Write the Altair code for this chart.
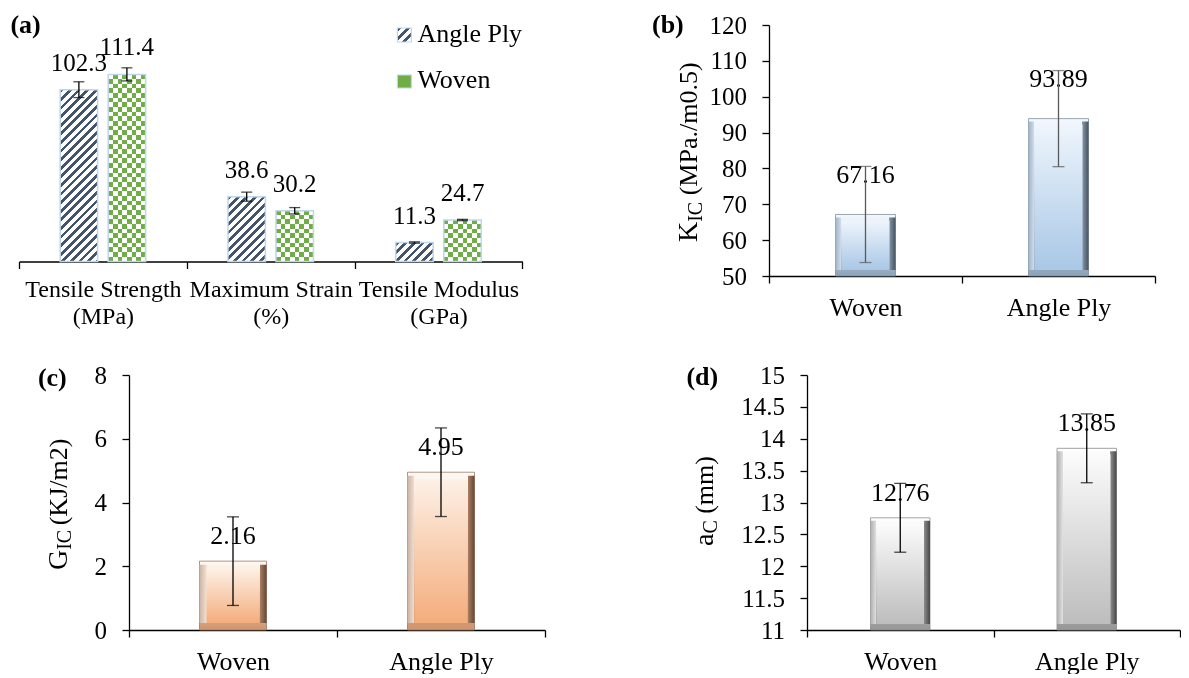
import altair as alt

FONT = "Liberation Serif"

# ---------------- data ----------------
props_a = ["Tensile Strength (MPa)", "Maximum Strain (%)", "Tensile Modulus (GPa)"]
series_a = ["Angle Ply", "Woven"]
angle_ply_a = [102.3, 38.6, 11.3]
angle_ply_err_a = [4.7, 2.7, 0.4]
woven_a = [111.4, 30.2, 24.7]
woven_err_a = [3.9, 1.9, 0.4]

cats = ["Woven", "Angle Ply"]
kic = [67.16, 93.89]
kic_err = [13.4, 13.4]
gic = [2.16, 4.95]
gic_err = [1.39, 1.39]
ac = [12.76, 13.85]
ac_err = [0.54, 0.54]

kic_ticks = [50, 60, 70, 80, 90, 100, 110, 120]
gic_ticks = [0, 2, 4, 6, 8]
ac_ticks = [11, 11.5, 12, 12.5, 13, 13.5, 14, 14.5, 15]

# ---------------- geometry / style ----------------
WA, HA, YMAX_A = 503.4, 236.5, 140.8
PI_A, PO_A = 0.22, 0.857
STEP_A = (WA / len(props_a)) / (len(series_a) - PI_A + 2 * PO_A)
BW_A = STEP_A * (1 - PI_A)
CELL = BW_A / 4

DARK = "#44546a"
GREEN = "#70ad47"
EDGE_A = "#bdd7ee"


def band_stops(period_t, frac, c1, c2):
    stops, t = [], 0.0
    while t < 1 - 1e-9:
        b = min(t + frac * period_t, 1.0)
        c = min(t + period_t, 1.0)
        stops += [{"offset": round(t, 5), "color": c1}, {"offset": round(b, 5), "color": c1},
                  {"offset": round(b, 5), "color": c2}, {"offset": round(c, 5), "color": c2}]
        t += period_t
    return stops


def diag_grad(w, h, period=8.6, frac=0.45):
    L = w + h
    k = L / (w * w + h * h)
    return {"gradient": "linear", "x1": 0, "y1": 0, "x2": round(w * k, 5), "y2": round(h * k, 5),
            "stops": band_stops(period / L, frac, DARK, "#ffffff")}


def rows_grad(h):
    return {"gradient": "linear", "x1": 0, "y1": 1, "x2": 0, "y2": 0,
            "stops": band_stops(CELL / h, 0.5, "#000000", "#ffffff")}


COLS_GRAD = {"gradient": "linear", "x1": 0, "y1": 0, "x2": 1, "y2": 0,
             "stops": band_stops(CELL / BW_A, 0.5, "#000000", "#ffffff")}


def vgrad(top, bot):
    return {"gradient": "linear", "x1": 0, "y1": 0, "x2": 0, "y2": 1,
            "stops": [{"offset": 0, "color": top}, {"offset": 1, "color": bot}]}


def side_grad(l0, l1, r0, r1, f):
    clear = "rgba(255,255,255,0)"
    return {"gradient": "linear", "x1": 0, "y1": 0, "x2": 1, "y2": 0,
            "stops": [{"offset": 0, "color": l0}, {"offset": f, "color": l1},
                      {"offset": f, "color": clear}, {"offset": 1 - f, "color": clear},
                      {"offset": 1 - f, "color": r0}, {"offset": 1, "color": r1}]}


one = alt.Chart(alt.Data(values=[{}]))


def label(text, x, y, size, bold=False, angle=None, align="left"):
    kw = dict(align=align, baseline="alphabetic", fontSize=size, font=FONT, color="black")
    if bold:
        kw["fontWeight"] = "bold"
    if angle is not None:
        kw["angle"] = angle
    return one.mark_text(**kw).encode(x=alt.value(x), y=alt.value(y), text=alt.value(text))


# ---------------- panel (a) ----------------
rec_a = []
for i, p in enumerate(props_a):
    for s, vals, errs in (("Angle Ply", angle_ply_a, angle_ply_err_a), ("Woven", woven_a, woven_err_a)):
        v = vals[i]
        h = v * HA / YMAX_A
        rec_a.append({"prop": p, "series": s, "value": v, "err": errs[i],
                      "gs": diag_grad(BW_A, h), "gr": rows_grad(h)})

xaxis_a = alt.Axis(title=None, labelAngle=0, tickBand="extent", tickSize=7, tickWidth=1.3,
                   domainWidth=1.3, domainColor="black", tickColor="black", labelColor="black",
                   labelFont=FONT, labelFontSize=24, labelPadding=9, labelLineHeight=27,
                   labelLimit=400, labelOverlap=False,
                   labelExpr="[slice(datum.label, 0, indexof(datum.label, ' (')), "
                             "slice(datum.label, indexof(datum.label, ' (') + 1)]")
xa = alt.X("prop:N", scale=alt.Scale(domain=props_a, paddingInner=0, paddingOuter=0), axis=xaxis_a)
xo = alt.XOffset("series:N", scale=alt.Scale(domain=series_a, paddingInner=PI_A, paddingOuter=PO_A))
ysc_a = alt.Scale(domain=[0, YMAX_A], nice=False)
ya = alt.Y("value:Q", scale=ysc_a, axis=None, stack=None)

base_a = alt.Chart(alt.Data(values=rec_a))
ap = base_a.transform_filter("datum.series == 'Angle Ply'")
wv = base_a.transform_filter("datum.series == 'Woven'")
err_a = base_a.transform_calculate(lo="datum.value - datum.err", hi="datum.value + datum.err")

layers_a = [
    ap.mark_bar().encode(x=xa, xOffset=xo, y=ya, fill=alt.Fill("gs:N", scale=None, legend=None)),
    wv.mark_bar(fill=COLS_GRAD).encode(x=xa, xOffset=xo, y=ya),
    wv.mark_bar(blend="difference").encode(x=xa, xOffset=xo, y=ya,
                                           fill=alt.Fill("gr:N", scale=None, legend=None)),
    wv.mark_bar(color=GREEN, blend="screen").encode(x=xa, xOffset=xo, y=ya),
    base_a.mark_bar(fillOpacity=0, stroke=EDGE_A, strokeWidth=1.5).encode(x=xa, xOffset=xo, y=ya),
    err_a.mark_rule(color="black", strokeWidth=1.3).encode(
        x=xa, xOffset=xo, y=alt.Y("lo:Q", scale=ysc_a, axis=None), y2="hi:Q"),
    err_a.mark_tick(color="black", thickness=1.3, size=11, orient="horizontal").encode(
        x=xa, xOffset=xo, y=alt.Y("lo:Q", scale=ysc_a, axis=None)),
    err_a.mark_tick(color="black", thickness=1.3, size=11, orient="horizontal").encode(
        x=xa, xOffset=xo, y=alt.Y("hi:Q", scale=ysc_a, axis=None)),
    base_a.mark_text(dy=-19, fontSize=25, font=FONT, baseline="alphabetic", color="black").encode(
        x=xa, xOffset=xo, y=ya, text=alt.Text("value:Q", format=".1f")),
    # legend
    one.mark_rect(fill=diag_grad(14, 14, period=9, frac=0.5), stroke=EDGE_A, strokeWidth=1.2).encode(
        x=alt.value(378.4), x2=alt.value(392.4), y=alt.value(3), y2=alt.value(17)),
    one.mark_rect(fill=GREEN, stroke=EDGE_A, strokeWidth=1.2).encode(
        x=alt.value(378.4), x2=alt.value(392.4), y=alt.value(50), y2=alt.value(63)),
    label("Angle Ply", 398.4, 17, 26),
    label("Woven", 398.4, 63, 26),
    label("(a)", -8.6, 8, 26, bold=True),
]
panel_a = alt.layer(*layers_a).properties(width=WA, height=HA)

# ---------------- panels (b), (c), (d) ----------------
BLUE = dict(outer_top="#f4f8fc", outer_bot="#8ea3b9", l0="#9fb2c6", l1="#d4e1ee", r0="#8395a8",
            r1="#46525e", face_top="#eef5fc", face_bot="#a9c7e6", edge="#7f8fa0")
ORANGE = dict(outer_top="#fff9f4", outer_bot="#cf956d", l0="#cbb3a3", l1="#f1e0d3", r0="#b08366",
              r1="#654636", face_top="#fdf0e6", face_bot="#f4ad7c", edge="#9c7a64")
GRAY = dict(outer_top="#ffffff", outer_bot="#979797", l0="#b0b0b0", l1="#e2e2e2", r0="#8c8c8c",
            r1="#474747", face_top="#fbfbfb", face_bot="#bdbdbd", edge="#8a8a8a")


def bevel_panel(values, errs, ticks, fmt, W, H, bar_w, inset, pal, err_color, dy, title_parts, tag):
    rec = [{"cat": c, "value": v, "err": e} for c, v, e in zip(cats, values, errs)]
    base = alt.Chart(alt.Data(values=rec)).transform_calculate(
        lo="datum.value - datum.err", hi="datum.value + datum.err")
    xaxis = alt.Axis(title=None, labelAngle=0, tickBand="extent", tickSize=7, tickWidth=1.3,
                     domainWidth=1.3, domainColor="black", tickColor="black", labelColor="black",
                     labelFont=FONT, labelFontSize=26, labelPadding=11, labelLimit=400)
    x = alt.X("cat:N", scale=alt.Scale(domain=cats, paddingInner=0, paddingOuter=0), axis=xaxis)
    ysc = alt.Scale(domain=[ticks[0], ticks[-1]], zero=False, nice=False)
    yaxis = alt.Axis(title=None, values=ticks, format=fmt, grid=False, tickSize=7, tickWidth=1.3,
                     domainWidth=1.3, domainColor="black", tickColor="black", labelColor="black",
                     labelFont=FONT, labelFontSize=25, labelPadding=15.5)
    y = alt.Y("value:Q", scale=ysc, axis=yaxis)
    ylo = alt.Y("lo:Q", scale=ysc, axis=yaxis)
    yhi = alt.Y("hi:Q", scale=ysc, axis=yaxis)
    y2 = alt.datum(ticks[0])
    f = inset / bar_w
    layers = [
        base.mark_bar(size=bar_w, fill=vgrad(pal["outer_top"], pal["outer_bot"]),
                      stroke=pal["edge"], strokeWidth=0.8).encode(x=x, y=y, y2=y2),
        base.mark_bar(size=bar_w, fill=side_grad(pal["l0"], pal["l1"], pal["r0"], pal["r1"], f),
                      yOffset=inset * 0.5, y2Offset=-inset).encode(x=x, y=y, y2=y2),
        base.mark_bar(size=bar_w - 2 * inset, fill=vgrad(pal["face_top"], pal["face_bot"]),
                      yOffset=inset, y2Offset=-inset).encode(x=x, y=y, y2=y2),
        base.mark_text(dy=dy, fontSize=26, font=FONT, baseline="alphabetic", color="black").encode(
            x=x, y=y, text=alt.Text("value:Q", format=".2f")),
        base.mark_rule(color=err_color, strokeWidth=1.3).encode(x=x, y=ylo, y2="hi:Q"),
        base.mark_tick(color=err_color, thickness=1.3, size=12, orient="horizontal").encode(x=x, y=ylo),
        base.mark_tick(color=err_color, thickness=1.3, size=12, orient="horizontal").encode(x=x, y=yhi),
    ]
    for t, tx, ty, fs in title_parts:
        layers.append(label(t, tx, ty, fs, angle=270))
    layers.append(label(tag[0], tag[1], tag[2], 26, bold=True))
    return alt.layer(*layers).properties(width=W, height=H)


panel_b = bevel_panel(kic, kic_err, kic_ticks, "d", 386, 251, 60, 6, BLUE, "#595959", -31.5,
                      [("K", -72, 217, 28), ("IC", -67.5, 196.8, 20), ("(MPa./m0.5)", -72, 170.3, 26)],
                      ("(b)", -117, 8))
panel_c = bevel_panel(gic, gic_err, gic_ticks, "d", 416, 255, 67, 7, ORANGE, "black", -17,
                      [("G", -62.1, 195, 28), ("IC", -58, 174.8, 20), ("(KJ/m2)", -62.1, 150.3, 26)],
                      ("(c)", -91.1, 11.3))
panel_d = bevel_panel(ac, ac_err, ac_ticks, ".1~f", 373, 255, 59.5, 6, GRAY, "black", -17,
                      [("a", -93.9, 171, 28), ("C", -89.9, 158.6, 20), ("(mm)", -93.9, 138.8, 26)],
                      ("(d)", -120.6, 9.7))

spacer = one.mark_point(opacity=0, size=1).encode(x=alt.value(0), y=alt.value(0)).properties(width=110, height=10)

row1 = alt.hconcat(panel_a, panel_b, spacing=246, bounds="flush")
row2 = alt.hconcat(spacer, alt.hconcat(panel_c, panel_d, spacing=262, bounds="flush"),
                   spacing=0, bounds="flush")

chart = (
    alt.vconcat(row1, row2, spacing=34, bounds="full")
    .properties(padding={"left": 2, "top": 4, "right": 0, "bottom": 0})
    .configure_view(stroke=None)
)

chart.save("out.html", embed_options={"renderer": "svg", "actions": False})
